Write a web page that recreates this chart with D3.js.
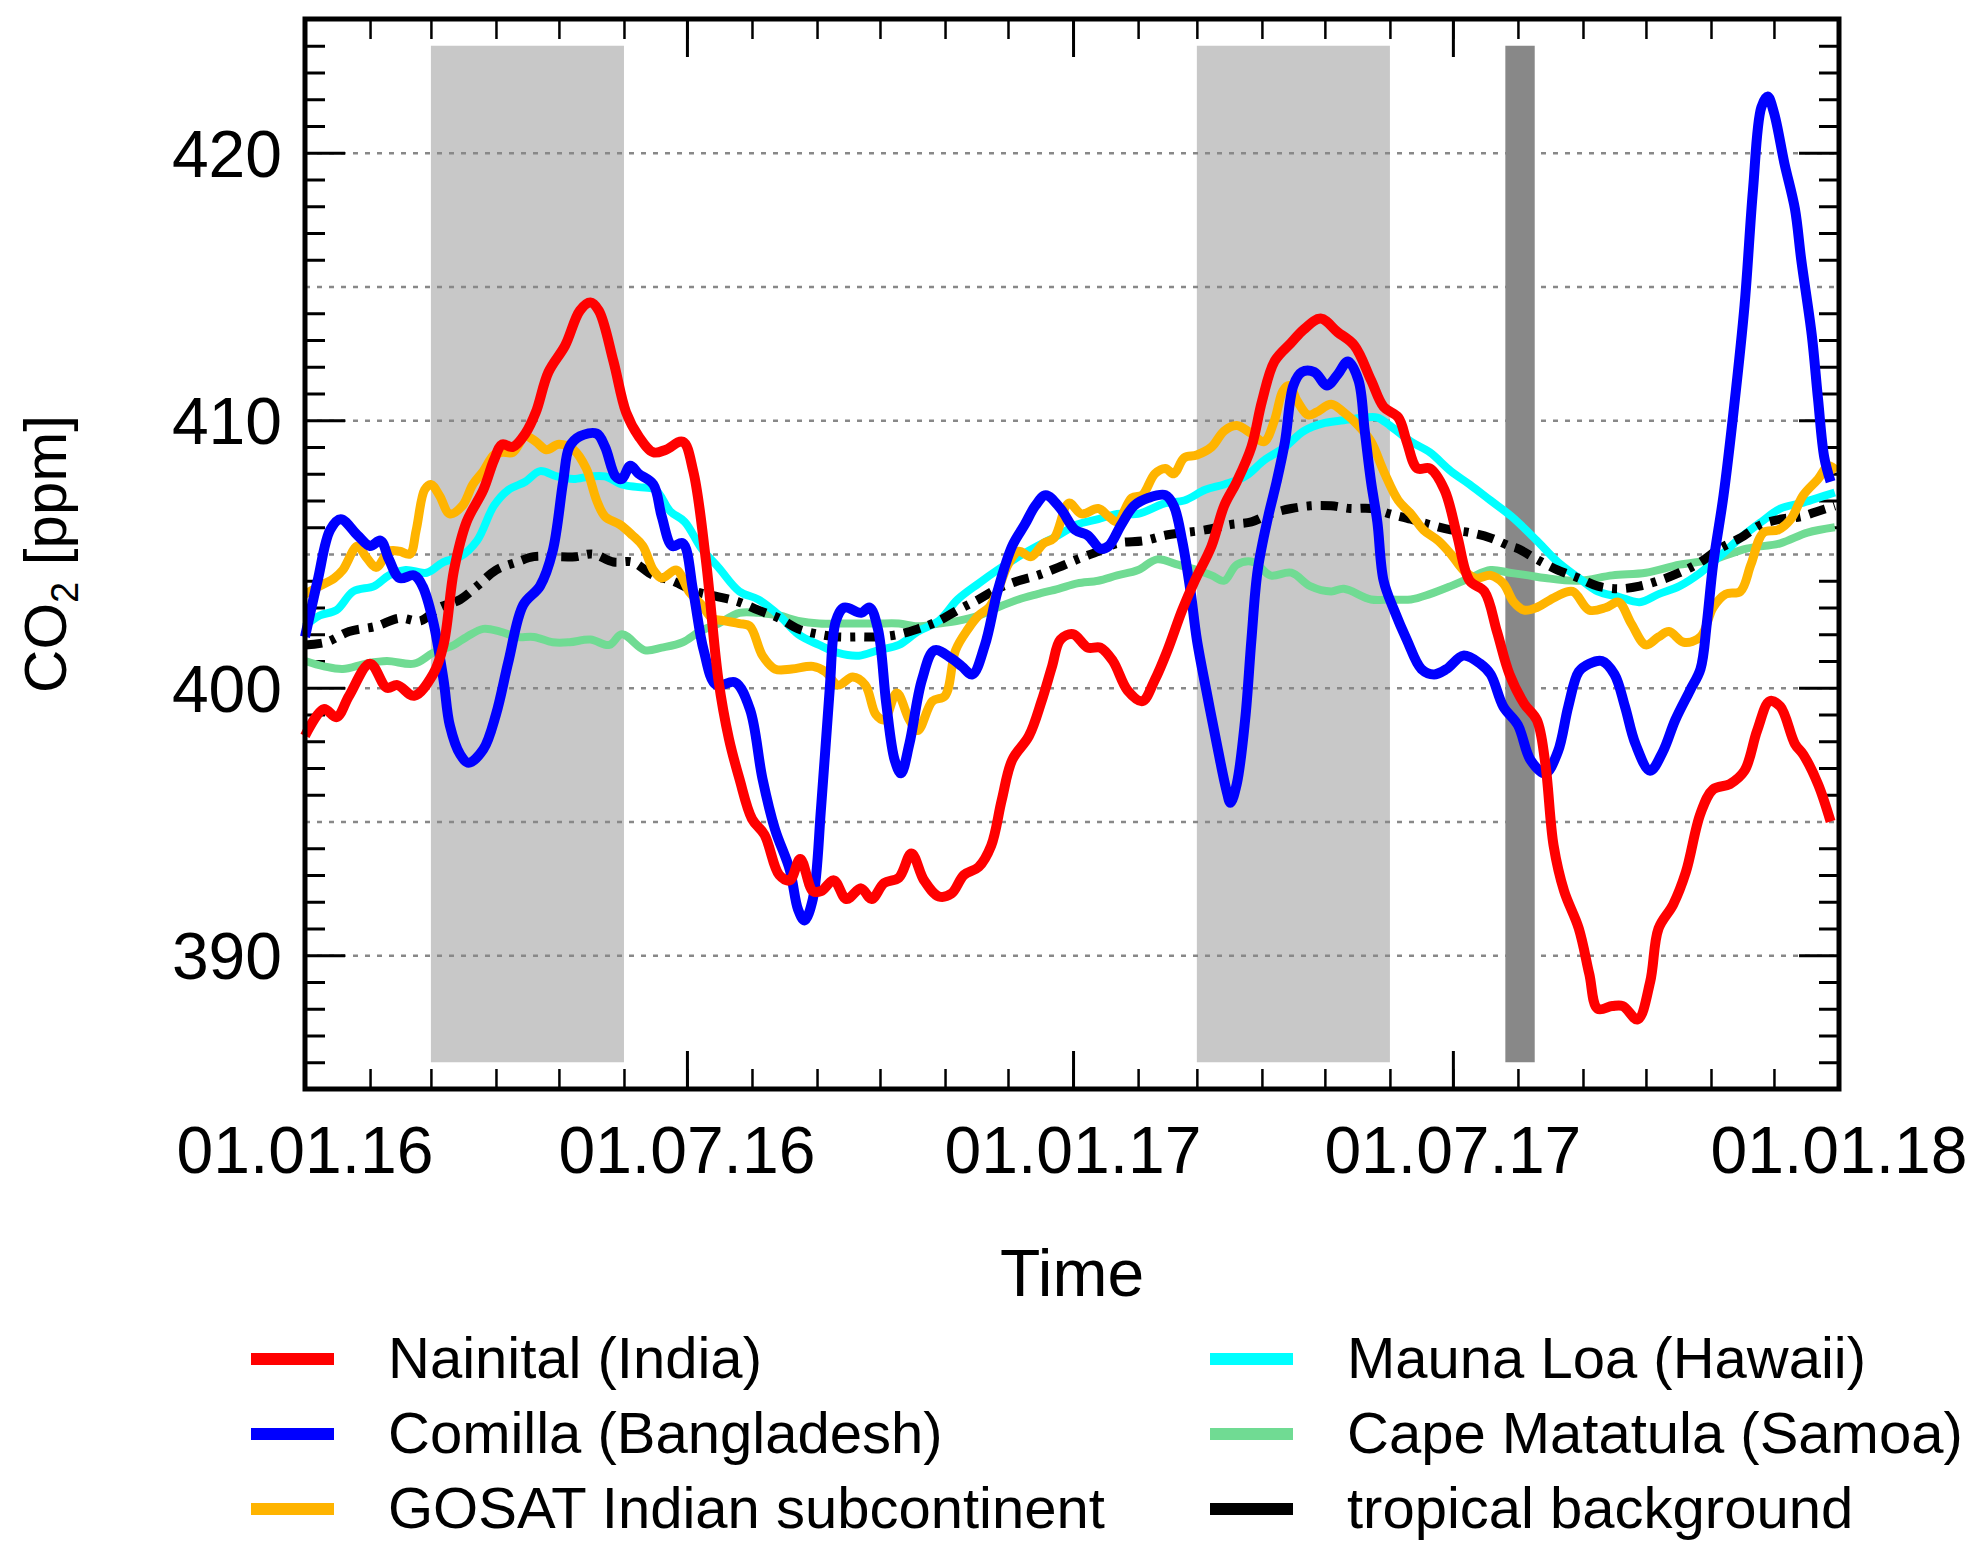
<!DOCTYPE html>
<html>
<head>
<meta charset="utf-8">
<script src="https://cdn.jsdelivr.net/npm/d3@7"></script>
<style>
  html, body { margin: 0; padding: 0; background: #fff; }
  svg { display: block; font-family: "Liberation Sans", Arial, Helvetica, sans-serif; }
</style>
</head>
<body>
<div id="chart"></div>
<script>
// Series values: [days since 01.01.2016, CO2 in ppm]
const nainital = [[0,398.2],[9,399.2],[15,398.9],[21,399.7],[31,400.9],[39,400.0],[44,400.1],[52,399.7],[61,400.5],[66,401.6],[71,404.4],[77,406.2],[85,407.4],[90,408.5],[94,409.1],[99,409.0],[105,409.5],[110,410.3],[116,411.8],[124,412.8],[131,414.1],[136,414.4],[140,414.1],[147,412.2],[153,410.3],[159,409.4],[166,408.8],[172,408.9],[180,409.2],[185,408.1],[191,404.8],[197,400.3],[202,398.1],[207,396.6],[213,395.1],[219,394.5],[226,393.0],[231,392.8],[236,393.6],[242,392.4],[246,392.4],[252,392.8],[258,392.1],[265,392.5],[270,392.1],[276,392.7],[283,392.9],[289,393.8],[295,392.8],[302,392.2],[308,392.3],[314,393.0],[321,393.3],[327,394.1],[332,395.8],[337,397.3],[345,398.2],[351,399.5],[356,400.8],[360,401.8],[366,402.0],[373,401.5],[379,401.5],[385,401.0],[392,399.9],[399,399.5],[405,400.3],[411,401.4],[418,402.9],[424,404.0],[432,405.3],[438,406.8],[444,407.7],[451,409.0],[456,410.7],[462,412.2],[470,412.9],[476,413.4],[484,413.8],[492,413.3],[500,412.8],[508,411.5],[514,410.5],[521,410.1],[525,409.2],[530,408.2],[536,408.2],[543,407.4],[549,405.7],[555,404.0],[562,403.6],[568,402.1],[574,400.5],[581,399.4],[587,398.8],[591,397.2],[595,394.1],[600,392.4],[607,391.0],[612,389.3],[616,388.0],[623,388.1],[628,388.1],[635,387.6],[641,389.0],[645,391.0],[652,391.9],[658,393.1],[665,395.3],[671,396.2],[679,396.4],[686,396.9],[692,398.4],[698,399.5],[703,399.3],[710,397.9],[714,397.5],[721,396.4],[727,395.0]];

const comilla = [[0,401.9],[6,404.0],[12,405.9],[17,406.3],[25,405.7],[31,405.3],[36,405.5],[40,404.8],[45,404.1],[52,404.2],[56,403.8],[61,402.5],[66,400.3],[69,398.6],[74,397.5],[78,397.2],[85,397.7],[91,399.0],[97,401.0],[104,403.1],[112,403.8],[118,405.1],[123,407.7],[126,409.0],[131,409.4],[139,409.5],[143,409.0],[148,407.9],[151,407.8],[155,408.3],[159,408.0],[166,407.6],[170,406.4],[175,405.3],[180,405.4],[185,403.6],[190,401.4],[196,400.1],[205,400.2],[212,399.2],[218,396.6],[224,394.7],[231,393.2],[235,391.7],[238,391.3],[242,392.1],[246,395.6],[250,399.9],[253,402.5],[257,403.0],[265,402.8],[269,403.0],[273,402.2],[277,399.4],[281,397.3],[284,396.8],[288,397.9],[294,400.3],[300,401.4],[308,401.1],[313,400.8],[318,400.5],[324,401.6],[330,403.6],[337,405.3],[343,406.1],[348,406.8],[353,407.2],[360,406.7],[367,405.9],[373,405.7],[379,405.2],[383,405.3],[389,406.1],[395,406.8],[402,407.1],[410,407.2],[414,406.8],[418,405.5],[422,403.6],[425,401.8],[430,399.7],[435,397.7],[439,396.2],[441,395.7],[444,396.4],[448,398.8],[451,401.8],[454,404.4],[459,406.4],[463,407.7],[467,409.2],[471,411.3],[475,411.8],[481,411.8],[487,411.3],[492,411.7],[497,412.2],[502,411.5],[505,409.6],[508,407.7],[511,406.2],[514,404.0],[519,402.9],[525,401.8],[532,400.7],[538,400.5],[544,400.7],[552,401.2],[560,400.9],[565,400.5],[571,399.3],[578,398.6],[584,397.3],[591,396.8],[597,397.6],[602,399.3],[607,400.6],[612,400.9],[618,401.0],[624,400.5],[629,399.3],[634,397.9],[641,396.9],[647,397.6],[653,398.8],[660,399.9],[665,400.7],[668,402.4],[671,404.6],[676,407.2],[681,410.5],[686,414.3],[690,418.6],[694,421.7],[697,422.1],[700,421.5],[705,419.6],[710,417.9],[713,416.0],[718,413.2],[721,410.8],[724,408.6],[727,407.7]];

const gosat = [[0,403.5],[7,403.8],[14,404.1],[18,404.4],[25,405.3],[29,404.9],[34,404.5],[40,405.1],[45,405.1],[50,405.0],[53,405.9],[57,407.4],[60,407.6],[64,407.2],[69,406.5],[75,406.8],[80,407.6],[85,408.1],[90,408.7],[94,408.8],[99,408.8],[105,409.4],[110,409.2],[115,408.9],[121,409.1],[128,408.9],[134,408.2],[139,407.0],[143,406.4],[150,406.1],[156,405.7],[161,405.3],[166,404.4],[170,404.1],[177,404.4],[183,403.6],[189,403.1],[194,402.6],[200,402.5],[207,402.4],[212,402.3],[218,401.2],[224,400.7],[232,400.7],[242,400.8],[248,400.6],[254,400.1],[261,400.4],[267,400.1],[272,399.0],[276,398.8],[282,399.8],[288,398.8],[292,398.4],[299,399.5],[305,399.7],[310,401.4],[316,402.2],[321,402.7],[326,403.0],[330,403.6],[335,404.6],[340,405.1],[346,404.9],[352,405.4],[357,405.6],[364,406.9],[370,406.5],[378,406.7],[383,406.4],[387,406.2],[394,407.1],[399,407.2],[405,408.0],[410,408.2],[414,408.0],[419,408.6],[425,408.7],[432,409.0],[438,409.6],[444,409.8],[451,409.5],[457,409.2],[462,410.0],[466,411.1],[469,411.3],[473,410.7],[478,410.2],[482,410.3],[489,410.6],[495,410.3],[502,409.8],[508,409.2],[514,408.1],[521,407.0],[527,406.5],[533,405.9],[540,405.5],[546,405.0],[552,404.4],[558,404.1],[565,404.2],[571,403.9],[576,403.2],[581,402.9],[587,403.0],[596,403.4],[604,403.6],[612,402.9],[620,403.0],[626,403.2],[632,402.4],[639,401.6],[645,401.9],[650,402.1],[657,401.7],[665,401.9],[671,403.0],[677,403.5],[684,403.6],[689,404.6],[695,405.8],[702,405.9],[708,406.3],[714,407.2],[721,407.8],[726,408.3],[730,408.1]];

const maunaLoa = [[0,402.3],[7,402.7],[15,402.9],[23,403.6],[33,403.8],[40,404.2],[48,404.4],[58,404.3],[66,404.7],[74,404.9],[82,405.5],[90,406.8],[97,407.4],[105,407.7],[112,408.1],[120,407.9],[128,407.8],[136,407.9],[143,407.9],[151,407.6],[159,407.5],[167,407.4],[174,406.6],[181,406.2],[189,405.2],[197,404.5],[207,403.6],[216,403.3],[226,402.7],[235,402.0],[245,401.6],[254,401.3],[264,401.2],[273,401.4],[283,401.6],[292,402.1],[302,402.5],[311,403.3],[321,403.9],[330,404.4],[340,404.9],[349,405.3],[359,405.7],[368,406.1],[378,406.3],[387,406.5],[397,406.5],[410,406.9],[419,407.0],[429,407.4],[438,407.6],[448,407.9],[457,408.5],[467,409.0],[476,409.6],[486,409.9],[495,410.0],[505,410.1],[511,410.1],[517,409.8],[527,409.2],[536,408.8],[546,408.1],[555,407.6],[565,407.0],[575,406.4],[587,405.5],[597,404.7],[607,404.1],[616,403.6],[626,403.4],[636,403.2],[645,403.5],[655,403.8],[665,404.3],[674,404.9],[684,405.6],[694,406.2],[703,406.7],[713,406.9],[721,407.1],[729,407.3]];

const samoa = [[0,401.0],[9,400.8],[18,400.7],[29,400.9],[39,401.0],[52,400.9],[61,401.3],[71,401.6],[77,401.9],[85,402.2],[93,402.1],[101,401.9],[109,401.9],[118,401.7],[126,401.7],[136,401.8],[145,401.6],[151,402.0],[162,401.4],[170,401.5],[180,401.7],[188,402.1],[197,402.4],[207,402.8],[216,402.8],[226,402.7],[235,402.5],[245,402.4],[254,402.4],[264,402.4],[273,402.4],[283,402.4],[292,402.3],[302,402.4],[311,402.5],[321,402.7],[330,403.0],[340,403.3],[349,403.5],[359,403.7],[368,403.9],[378,404.0],[387,404.2],[397,404.4],[406,404.8],[416,404.6],[425,404.4],[432,404.2],[438,404.0],[444,404.6],[452,404.7],[460,404.2],[470,404.3],[479,403.8],[489,403.6],[495,403.7],[508,403.3],[517,403.3],[527,403.3],[536,403.5],[546,403.8],[555,404.1],[565,404.4],[574,404.3],[583,404.2],[591,404.1],[607,404.0],[623,404.2],[639,404.3],[655,404.6],[671,404.8],[687,405.2],[703,405.4],[716,405.8],[729,406.0]];

const tropical = [[0,401.6],[10,401.7],[21,402.1],[34,402.3],[45,402.6],[55,402.5],[64,403.0],[74,403.3],[82,403.8],[91,404.4],[101,404.7],[109,404.9],[118,404.9],[129,404.9],[137,405.0],[147,404.7],[156,404.7],[166,404.2],[175,404.0],[186,403.6],[197,403.4],[207,403.2],[216,402.9],[226,402.6],[235,402.2],[245,402.0],[254,401.9],[264,401.9],[273,401.9],[283,402.0],[292,402.2],[302,402.5],[311,402.9],[321,403.3],[330,403.7],[340,404.0],[349,404.2],[359,404.5],[368,404.8],[378,405.1],[387,405.4],[400,405.5],[410,405.7],[419,405.8],[429,405.9],[441,406.1],[451,406.2],[460,406.5],[470,406.7],[479,406.8],[489,406.8],[498,406.7],[508,406.7],[517,406.5],[527,406.3],[536,406.1],[546,405.9],[555,405.8],[565,405.6],[574,405.3],[578,405.2],[587,404.8],[597,404.4],[607,404.1],[616,403.8],[626,403.7],[636,403.8],[645,404.0],[655,404.3],[665,404.7],[674,405.2],[684,405.6],[694,406.1],[703,406.3],[713,406.4],[721,406.6],[729,406.8]];

// Shaded periods
const lightBands = [["2016-03-01", "2016-06-01"], ["2017-03-01", "2017-06-01"]];
const darkBands = [["2017-07-26", "2017-08-09"]];
const bandRange = [386, 424];

// Axis values
const timeDomain = ["2016-01-01", "2018-01-01"];
const ppmDomain = [385, 425];
const ppmLabels = [390, 400, 410, 420];

const legendNames = ["Nainital (India)", "Comilla (Bangladesh)", "GOSAT Indian subcontinent",
                     "Mauna Loa (Hawaii)", "Cape Matatula (Samoa)", "tropical background"];

// Chart geometry
const W = 1980, H = 1560;
const margin = {top: 19, right: 141, bottom: 471, left: 305};
const plotW = W - margin.left - margin.right;
const plotH = H - margin.top - margin.bottom;

const parse = d3.utcParse("%Y-%m-%d");
const t0 = parse(timeDomain[0]);

const svg = d3.select("#chart").append("svg")
  .attr("width", W)
  .attr("height", H);

const g = svg.append("g")
  .attr("transform", `translate(${margin.left},${margin.top})`);

const x = d3.scaleUtc()
  .domain(timeDomain.map(parse))
  .range([0, plotW]);

const y = d3.scaleLinear()
  .domain(ppmDomain)
  .range([plotH, 0]);

// Shaded periods
g.selectAll(".band-light")
  .data(lightBands)
  .join("rect")
    .attr("x", d => x(parse(d[0])))
    .attr("width", d => x(parse(d[1])) - x(parse(d[0])))
    .attr("y", y(bandRange[1]))
    .attr("height", y(bandRange[0]) - y(bandRange[1]))
    .attr("fill", "#c8c8c8");

g.selectAll(".band-dark")
  .data(darkBands)
  .join("rect")
    .attr("x", d => x(parse(d[0])))
    .attr("width", d => x(parse(d[1])) - x(parse(d[0])))
    .attr("y", y(bandRange[1]))
    .attr("height", y(bandRange[0]) - y(bandRange[1]))
    .attr("fill", "#888888");

// Gridlines every 5 ppm
g.append("g")
  .call(d3.axisLeft(y).tickValues(d3.range(390, 425, 5)).tickSize(-plotW).tickFormat(""))
  .call(a => a.select(".domain").remove())
  .call(a => a.selectAll("line")
    .attr("stroke", "#888")
    .attr("stroke-width", 2.6)
    .attr("stroke-dasharray", "5,7"));

// Y ticks, left and right (pointing inside)
const minorPpm = d3.range(386, 425).filter(v => v % 5 !== 0);
[{axis: d3.axisLeft, shift: 0}, {axis: d3.axisRight, shift: plotW}].forEach(t => {
  g.append("g")
    .attr("transform", `translate(${t.shift},0)`)
    .call(t.axis(y).tickValues(minorPpm).tickSize(-20).tickFormat(""))
    .call(a => a.select(".domain").remove())
    .call(a => a.selectAll("line").attr("stroke", "#000").attr("stroke-width", 3));
  g.append("g")
    .attr("transform", `translate(${t.shift},0)`)
    .call(t.axis(y).tickValues(ppmLabels).tickSize(-40).tickFormat(""))
    .call(a => a.select(".domain").remove())
    .call(a => a.selectAll("line").attr("stroke", "#000").attr("stroke-width", 3));
});

// Y tick labels
g.append("g")
  .selectAll("text")
  .data(ppmLabels)
  .join("text")
    .attr("x", -23)
    .attr("y", d => y(d))
    .attr("dy", "0.36em")
    .attr("text-anchor", "end")
    .attr("font-size", 66)
    .text(d => d);

// X ticks: monthly minor, half-yearly major, bottom and top, pointing inside
const months = d3.utcMonth.range(t0, parse(timeDomain[1]));
const halfYears = d3.utcMonth.every(6).range(t0, d3.utcDay.offset(parse(timeDomain[1]), 1));
[{axis: d3.axisBottom, shift: plotH}, {axis: d3.axisTop, shift: 0}].forEach(t => {
  g.append("g")
    .attr("transform", `translate(0,${t.shift})`)
    .call(t.axis(x).tickValues(months).tickSize(-20).tickFormat(""))
    .call(a => a.select(".domain").remove())
    .call(a => a.selectAll("line").attr("stroke", "#000").attr("stroke-width", 2.5));
  g.append("g")
    .attr("transform", `translate(0,${t.shift})`)
    .call(t.axis(x).tickValues(halfYears).tickSize(-38).tickFormat(""))
    .call(a => a.select(".domain").remove())
    .call(a => a.selectAll("line").attr("stroke", "#000").attr("stroke-width", 3));
});

// X tick labels
const fmt = d3.utcFormat("%d.%m.%y");
g.append("g")
  .selectAll("text")
  .data(halfYears)
  .join("text")
    .attr("x", d => x(d))
    .attr("y", plotH + 84)
    .attr("text-anchor", "middle")
    .attr("font-size", 66)
    .text(d => fmt(d));

// Lines
const line = d3.line()
  .x(d => x(d3.utcDay.offset(t0, d[0])))
  .y(d => y(d[1]))
  .curve(d3.curveCatmullRom.alpha(0.5));

const series = [
  {name: legendNames[4], data: samoa, color: "#70db93", width: 8, dash: null},
  {name: legendNames[3], data: maunaLoa, color: "#00ffff", width: 8, dash: null},
  {name: legendNames[5], data: tropical, color: "#000000", width: 9, dash: "17,9,5,9"},
  {name: legendNames[2], data: gosat, color: "#ffb400", width: 9, dash: null},
  {name: legendNames[1], data: comilla, color: "#0000ff", width: 10, dash: null},
  {name: legendNames[0], data: nainital, color: "#ff0000", width: 10, dash: null}
];

g.append("g")
  .selectAll("path")
  .data(series)
  .join("path")
    .attr("d", d => line(d.data))
    .attr("fill", "none")
    .attr("stroke", d => d.color)
    .attr("stroke-width", d => d.width)
    .attr("stroke-dasharray", d => d.dash)
    .attr("stroke-linejoin", "round");

// Plot frame
g.append("rect")
  .attr("width", plotW)
  .attr("height", plotH)
  .attr("fill", "none")
  .attr("stroke", "#000")
  .attr("stroke-width", 5);

// Axis titles
svg.append("text")
  .attr("x", margin.left + plotW / 2)
  .attr("y", 1296)
  .attr("text-anchor", "middle")
  .attr("font-size", 66)
  .text("Time");

const yTitle = svg.append("text")
  .attr("transform", `translate(66,${margin.top + plotH / 2}) rotate(-90)`)
  .attr("text-anchor", "middle")
  .attr("font-size", 60);
yTitle.append("tspan").text("CO");
yTitle.append("tspan").attr("font-size", 38).attr("dy", 12).text("2");
yTitle.append("tspan").attr("dy", -12).text(" [ppm]");

// Legend, two columns of three
const legendOrder = [
  {name: legendNames[0], color: "#ff0000"},
  {name: legendNames[1], color: "#0000ff"},
  {name: legendNames[2], color: "#ffb400"},
  {name: legendNames[3], color: "#00ffff"},
  {name: legendNames[4], color: "#70db93"},
  {name: legendNames[5], color: "#000000"}
];
const legend = svg.append("g")
  .selectAll("g")
  .data(legendOrder)
  .join("g")
    .attr("transform", (d, i) => `translate(${i < 3 ? 251 : 1210},${1378 + (i % 3) * 75})`);

legend.append("line")
  .attr("x1", 0).attr("x2", 83)
  .attr("y1", -19).attr("y2", -19)
  .attr("stroke", d => d.color)
  .attr("stroke-width", 12);

legend.append("text")
  .attr("x", 137)
  .attr("font-size", 58)
  .text(d => d.name);
</script>
</body>
</html>
